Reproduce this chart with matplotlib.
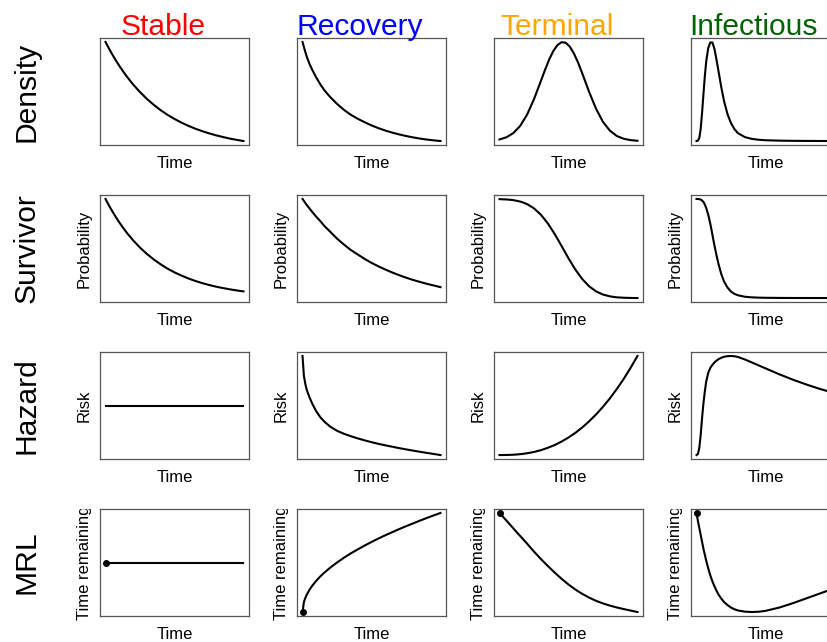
import matplotlib.pyplot as plt
from matplotlib.transforms import Bbox, TransformedBbox

plt.rcParams['font.family'] = ['Liberation Sans', 'DejaVu Sans']

# normalised time axis (0 = start, 1 = end of the plotted range)
time = [0, 0.01, 0.02, 0.03, 0.05, 0.07, 0.1, 0.13, 0.16, 0.2, 0.25, 0.3, 0.35,
        0.4, 0.45, 0.5, 0.55, 0.6, 0.65, 0.7, 0.75, 0.8, 0.85, 0.9, 0.95, 1.0]
time_ends = [0, 1.0]
# denser around the bell peak
time_peak = [0, 0.05, 0.1, 0.15, 0.2, 0.25, 0.3, 0.33, 0.36, 0.39, 0.42, 0.45, 0.48,
             0.51, 0.54, 0.57, 0.6, 0.65, 0.7, 0.75, 0.8, 0.85, 0.9, 0.95, 1.0]
# finer grid near the start for the infectious curves
time_inf = [0, 0.01, 0.02, 0.03, 0.04, 0.05, 0.06, 0.07, 0.085, 0.1, 0.115, 0.13,
            0.145, 0.16, 0.18, 0.2, 0.225, 0.25, 0.275, 0.3, 0.35, 0.4, 0.45, 0.5,
            0.6, 0.7, 0.8, 0.9, 1.0]

# Stable
stable_density = [1.0, 0.973, 0.947, 0.921, 0.872, 0.825, 0.759, 0.698, 0.641, 0.571,
                  0.494, 0.425, 0.365, 0.311, 0.264, 0.223, 0.186, 0.154, 0.125, 0.100,
                  0.078, 0.058, 0.041, 0.025, 0.012, 0.0]
stable_survivor = [1.0, 0.973, 0.947, 0.922, 0.874, 0.828, 0.763, 0.704, 0.649, 0.583,
                   0.509, 0.445, 0.389, 0.340, 0.296, 0.259, 0.227, 0.198, 0.173, 0.151,
                   0.132, 0.115, 0.101, 0.088, 0.077, 0.067]
stable_hazard = [0.5, 0.5]
stable_mrl = [0.5, 0.5]

# Recovery
recovery_density = [1.0, 0.95, 0.90, 0.855, 0.78, 0.72, 0.64, 0.57, 0.51, 0.445, 0.375,
                    0.315, 0.265, 0.225, 0.19, 0.158, 0.13, 0.106, 0.085, 0.067, 0.051,
                    0.037, 0.025, 0.015, 0.007, 0.0]
recovery_survivor = [1.0, 0.98, 0.96, 0.94, 0.905, 0.87, 0.82, 0.775, 0.725, 0.67, 0.60,
                     0.54, 0.485, 0.44, 0.395, 0.355, 0.32, 0.288, 0.258, 0.231, 0.206,
                     0.183, 0.163, 0.144, 0.127, 0.11]
recovery_hazard = [1.0, 0.80, 0.72, 0.66, 0.585, 0.52, 0.44, 0.38, 0.335, 0.287, 0.245,
                   0.215, 0.19, 0.168, 0.148, 0.13, 0.113, 0.098, 0.084, 0.07, 0.057,
                   0.045, 0.033, 0.022, 0.011, 0.0]
recovery_mrl = [0.0, 0.10, 0.141, 0.173, 0.224, 0.265, 0.316, 0.361, 0.40, 0.447, 0.50,
                0.548, 0.592, 0.632, 0.671, 0.707, 0.742, 0.775, 0.806, 0.837, 0.866,
                0.894, 0.922, 0.949, 0.975, 1.0]

# Terminal
terminal_density = [0.016, 0.038, 0.080, 0.153, 0.267, 0.423, 0.607, 0.719, 0.823, 0.909,
                    0.969, 0.998, 0.992, 0.952, 0.882, 0.790, 0.682, 0.494, 0.325, 0.193,
                    0.105, 0.051, 0.023, 0.009, 0.003]
terminal_survivor = [0.998, 0.998, 0.997, 0.996, 0.995, 0.993, 0.988, 0.980, 0.970, 0.948,
                     0.905, 0.841, 0.754, 0.646, 0.525, 0.401, 0.287, 0.191, 0.118, 0.067,
                     0.035, 0.017, 0.007, 0.003, 0.001, 0.0]
terminal_hazard = [0.0, 0.0, 0.0001, 0.0002, 0.0006, 0.0013, 0.0032, 0.0061, 0.0102, 0.0179,
                   0.031, 0.049, 0.073, 0.101, 0.136, 0.177, 0.224, 0.279, 0.341, 0.41,
                   0.487, 0.572, 0.666, 0.768, 0.88, 1.0]
terminal_mrl = [1.0, 0.985, 0.97, 0.954, 0.923, 0.892, 0.845, 0.797, 0.752, 0.69, 0.61,
                0.535, 0.465, 0.398, 0.335, 0.278, 0.227, 0.183, 0.145, 0.113, 0.087,
                0.065, 0.046, 0.03, 0.015, 0.0]

# Infectious
infectious_density = [0.0, 0.004, 0.03, 0.12, 0.28, 0.47, 0.65, 0.80, 0.94, 0.995, 0.995,
                      0.93, 0.82, 0.70, 0.54, 0.40, 0.27, 0.18, 0.12, 0.08, 0.04, 0.022,
                      0.013, 0.008, 0.004, 0.002, 0.001, 0.0005, 0.0003]
infectious_survivor = [1.0, 1.0, 0.998, 0.994, 0.985, 0.97, 0.945, 0.91, 0.84, 0.75, 0.64,
                       0.53, 0.43, 0.34, 0.24, 0.165, 0.105, 0.065, 0.042, 0.028, 0.013,
                       0.007, 0.004, 0.0025, 0.001, 0.0005, 0.0003, 0.0002, 0.0001]
infectious_hazard = [0.0, 0.01, 0.07, 0.2, 0.37, 0.52, 0.64, 0.74, 0.83, 0.88, 0.91, 0.935,
                     0.953, 0.968, 0.982, 0.992, 0.998, 1.0, 0.997, 0.99, 0.965, 0.935,
                     0.905, 0.875, 0.815, 0.76, 0.71, 0.665, 0.625]
infectious_mrl = [1.0, 0.92, 0.85, 0.78, 0.71, 0.64, 0.58, 0.52, 0.44, 0.37, 0.31, 0.26,
                  0.215, 0.175, 0.135, 0.10, 0.07, 0.045, 0.028, 0.016, 0.004, 0.0, 0.003,
                  0.012, 0.045, 0.09, 0.14, 0.19, 0.24]

columns = ['Stable', 'Recovery', 'Terminal', 'Infectious']
column_colors = ['red', 'blue', 'orange', 'darkgreen']
rows = ['Density', 'Survivor', 'Hazard', 'MRL']
ylabels = [None, 'Probability', 'Risk', 'Time remaining']

curves = [
    [(time, stable_density), (time, recovery_density),
     (time_peak, terminal_density), (time_inf, infectious_density)],
    [(time, stable_survivor), (time, recovery_survivor),
     (time, terminal_survivor), (time_inf, infectious_survivor)],
    [(time_ends, stable_hazard), (time, recovery_hazard),
     (time, terminal_hazard), (time_inf, infectious_hazard)],
    [(time_ends, stable_mrl), (time, recovery_mrl),
     (time, terminal_mrl), (time_inf, infectious_mrl)],
]

# layout in pixels (figure is 828x642, last column runs off the right edge)
W, H = 828, 642
col_left = [100, 297, 494, 691]
row_top = [38, 195, 352, 509]
box_w, box_h = 149, 107

fig = plt.figure(figsize=(W / 100, H / 100), dpi=100)

for c, name in enumerate(columns):
    fig.text((col_left[c] + box_w / 2 - 11.5) / W, 1 - 35 / H, name,
             color=column_colors[c], fontsize=21.6, ha='center', va='baseline')

for r, name in enumerate(rows):
    fig.text(35 / W, 1 - (row_top[r] + box_h / 2) / H, name, rotation=90,
             rotation_mode='anchor', ha='center', va='baseline', fontsize=21.6)

for r in range(4):
    for c in range(4):
        x0, y0 = col_left[c], row_top[r]
        ax = fig.add_axes([x0 / W, 1 - (y0 + box_h) / H, box_w / W, box_h / H])
        tx, ty = curves[r][c]
        ax.plot(tx, ty, color='black', lw=1.5)
        if r == 3:
            ax.plot(tx[0], ty[0], 'o', color='black', ms=4)
        ax.set_xlim(-0.04, 1.04)
        ax.set_ylim(-0.04, 1.04)
        ax.set_xticks([])
        ax.set_yticks([])
        for s in ax.spines.values():
            s.set_color('#555555')
            s.set_linewidth(0.9)

        fig.text((x0 + box_w / 2) / W, 1 - (y0 + box_h + 23) / H, 'Time',
                 ha='center', va='baseline', fontsize=12)
        if ylabels[r]:
            t = fig.text((x0 - 11) / W, 1 - (y0 + box_h / 2) / H, ylabels[r],
                         rotation=90, rotation_mode='anchor', ha='center',
                         va='baseline', fontsize=12)
            # long labels get cut at the top of the box, like the original
            t.set_clip_box(TransformedBbox(Bbox([[0, 0], [1, 1 - y0 / H]]),
                                           fig.transFigure))
            t.set_clip_on(True)

fig.savefig('out.png', dpi=100)
